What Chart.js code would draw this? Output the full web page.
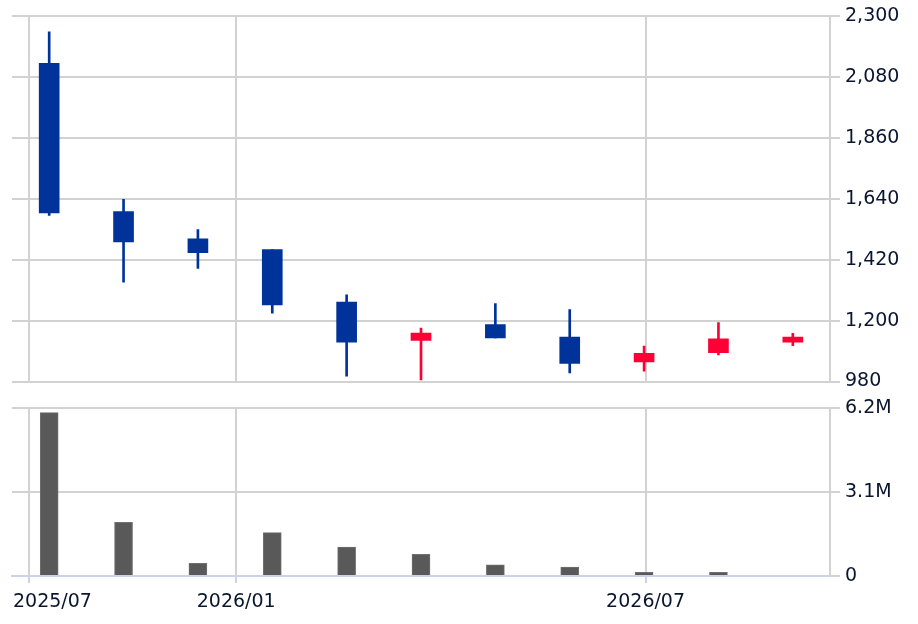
<!DOCTYPE html>
<html>
<head>
<meta charset="utf-8">
<script src="https://cdn.jsdelivr.net/npm/chart.js@4.4.1/dist/chart.umd.min.js"></script>
<style>
  html, body { margin: 0; padding: 0; background: #fff; }
  #wrap { position: relative; width: 918px; height: 624px; }
  #priceCanvas { position: absolute; left: 0; top: 0; }
  #volCanvas { position: absolute; left: 0; top: 392px; }
</style>
</head>
<body>
<div id="wrap">
  <canvas id="priceCanvas" width="918" height="396"></canvas>
  <canvas id="volCanvas" width="918" height="232"></canvas>
</div>
<script>
// === data ===
const opens  = [2129, 1594, 1495, 1456, 1267, 1128, 1186, 1140, 1051, 1084, 1122];
const highs  = [2243, 1638, 1529, 1456, 1293, 1173, 1261, 1240, 1108, 1193, 1154];
const lows   = [1580, 1339, 1388, 1227,  999,  986, 1137, 1011, 1017, 1076, 1109];
const closes = [1589, 1484, 1445, 1257, 1122, 1155, 1137, 1045, 1082, 1134, 1140];
const volumes = [6030000, 1980000, 470000, 1600000, 1070000, 800000, 410000, 330000, 140000, 140000, 0];

const xTickLabels = ["2025/07", "2026/01", "2026/07"];
const xTickValues = [-0.265, 2.515, 8.02];
const priceTicks = [980, 1200, 1420, 1640, 1860, 2080, 2300];
const volumeTicks = [0, 3100000, 6200000];

const UP = "#ff0036";
const DOWN = "#003399";
const GRID = "#d2d2d2";
const AXIS_BLUE = "#c9d4ea";
const TEXT = "#0a1630";
const FONT = { family: "'DejaVu Sans', Verdana, sans-serif", size: 19, lineHeight: 1 };

const colorOf = (i) => (closes[i] >= opens[i] ? UP : DOWN);
const wickData = highs.map((h, i) => ({ x: i, y: [lows[i], h] }));
const bodyData = opens.map((o, i) => ({ x: i, y: [Math.min(o, closes[i]), Math.max(o, closes[i])] }));
const volData = volumes.map((v, i) => ({ x: i, y: v }));

function xScale(extra) {
  return Object.assign({
    type: "linear",
    min: -0.5,
    max: 10.5,
    offset: false,
    afterBuildTicks: (s) => { s.ticks = xTickValues.map((v) => ({ value: v })); },
    ticks: { display: false },
  }, extra);
}

// === price chart ===
new Chart(document.getElementById("priceCanvas"), {
  type: "bar",
  data: {
    datasets: [
      { data: wickData, backgroundColor: wickData.map((_, i) => colorOf(i)), barThickness: 2, grouped: false, borderWidth: 0 },
      { data: bodyData, backgroundColor: bodyData.map((_, i) => colorOf(i)), barThickness: 20, grouped: false, borderWidth: 0 },
    ],
  },
  options: {
    responsive: false,
    animation: false,
    layout: { padding: { left: 12, top: 16, right: 0, bottom: 11 } },
    plugins: { legend: { display: false }, tooltip: { enabled: false } },
    scales: {
      x: xScale({
        grid: { color: GRID, lineWidth: 2, drawTicks: false, offset: false },
        border: { display: false },
        afterFit: (s) => { s.height = 0; },
      }),
      y: {
        position: "right",
        min: 980,
        max: 2300,
        afterBuildTicks: (s) => { s.ticks = priceTicks.map((v) => ({ value: v })); },
        afterFit: (s) => { s.width = 88; },
        grid: { color: GRID, lineWidth: 2, tickLength: 10 },
        border: { color: GRID, width: 2 },
        ticks: {
          color: TEXT, font: FONT, padding: 5,
          callback: (v) => v.toLocaleString("en-US"),
        },
      },
    },
  },
});

// x labels drawn under the volume chart, first one kept inside the plot
const xLabelPlugin = {
  id: "xLabels",
  afterDraw(chart) {
    const { ctx, chartArea } = chart;
    const sx = chart.scales.x;
    ctx.save();
    ctx.font = `${FONT.size}px ${FONT.family}`;
    ctx.fillStyle = TEXT;
    ctx.textBaseline = "middle";
    xTickLabels.forEach((lab, i) => {
      const w = ctx.measureText(lab).width;
      let left = sx.getPixelForValue(xTickValues[i]) - w / 2;
      if (left < chartArea.left + 1) left = chartArea.left + 1;
      ctx.fillText(lab, left, 210);
    });
    ctx.restore();
  },
};

// === volume chart ===
new Chart(document.getElementById("volCanvas"), {
  type: "bar",
  data: {
    datasets: [
      { data: volData, backgroundColor: "#595959", borderColor: "#707070", borderWidth: 1, barThickness: 18 },
    ],
  },
  options: {
    responsive: false,
    animation: false,
    layout: { padding: { left: 12, top: 16, right: 0, bottom: 0 } },
    plugins: { legend: { display: false }, tooltip: { enabled: false } },
    scales: {
      x: xScale({
        grid: { color: GRID, lineWidth: 2, tickColor: AXIS_BLUE, tickLength: 7, offset: false },
        border: { color: AXIS_BLUE, width: 2 },
        afterFit: (s) => { s.height = 48; },
      }),
      y: {
        position: "right",
        min: 0,
        max: 6200000,
        afterBuildTicks: (s) => { s.ticks = volumeTicks.map((v) => ({ value: v })); },
        afterFit: (s) => { s.width = 88; },
        grid: {
          color: (c) => (c.tick && c.tick.value === 0 ? "rgba(0,0,0,0)" : GRID),
          tickColor: GRID,
          lineWidth: 2,
          tickLength: 10,
        },
        border: { color: GRID, width: 2 },
        ticks: {
          color: TEXT, font: FONT, padding: 5,
          callback: (v) => (v === 0 ? "0" : (v / 1000000).toFixed(1) + "M"),
        },
      },
    },
  },
  plugins: [xLabelPlugin],
});
</script>
</body>
</html>
